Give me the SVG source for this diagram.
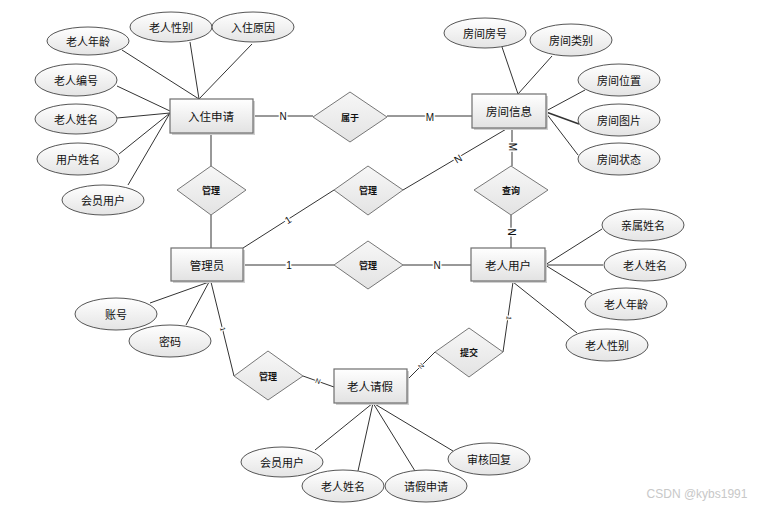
<svg xmlns="http://www.w3.org/2000/svg" width="767" height="507" viewBox="0 0 767 507">
<defs>
<linearGradient id="gE" x1="0" y1="0" x2="0" y2="1"><stop offset="0" stop-color="#ffffff"/><stop offset="1" stop-color="#e4e4e4"/></linearGradient>
<linearGradient id="gR" x1="0" y1="0" x2="0" y2="1"><stop offset="0" stop-color="#ffffff"/><stop offset="1" stop-color="#e2e2e2"/></linearGradient>
<linearGradient id="gD" x1="0" y1="0" x2="0" y2="1"><stop offset="0" stop-color="#f7f7f7"/><stop offset="1" stop-color="#e3e3e3"/></linearGradient>
</defs>
<style>
text{font-family:"Noto Sans CJK SC","Noto Sans",sans-serif;fill:#111;text-anchor:middle;dominant-baseline:central}
.ent rect.s{fill:#d0d0d0}
.ent rect.b{fill:url(#gR);stroke:#6e6e6e;stroke-width:1.2}
.ent text{font-size:11.5px}
.att ellipse{fill:url(#gE);stroke:#555;stroke-width:1}
.att text{font-size:11px}
.rel polygon{fill:url(#gD);stroke:#777;stroke-width:1}
.rel text{font-size:9px;font-weight:bold}
.conn line{stroke:#333;stroke-width:1}
.lbl{font-size:10px;font-family:"Liberation Sans",sans-serif;paint-order:stroke;stroke:#fff;stroke-width:3px}
.tiny{font-size:7px;font-family:"Liberation Sans",sans-serif;paint-order:stroke;stroke:#fff;stroke-width:2px}
</style>
<rect width="767" height="507" fill="#fff"/>
<g id="connectors" class="conn">
<line x1="122" y1="50" x2="199" y2="99"/>
<line x1="190" y1="42" x2="199" y2="99"/>
<line x1="252" y1="44" x2="199" y2="99"/>
<line x1="117" y1="86" x2="170" y2="111"/>
<line x1="117" y1="118" x2="170" y2="113"/>
<line x1="119" y1="154" x2="170" y2="113"/>
<line x1="128" y1="185" x2="170" y2="113"/>
<line x1="253" y1="116" x2="313" y2="116"/>
<line x1="387" y1="116" x2="472" y2="116"/>
<line x1="502" y1="47" x2="518" y2="94"/>
<line x1="552" y1="56" x2="518" y2="94"/>
<line x1="585" y1="90" x2="546" y2="111"/>
<line x1="579" y1="124" x2="546" y2="112" style="stroke-width:1.6"/>
<line x1="578" y1="155" x2="546" y2="113"/>
<line x1="512" y1="128" x2="512" y2="166"/>
<line x1="508" y1="128" x2="403" y2="190"/>
<line x1="211" y1="133" x2="211" y2="166"/>
<line x1="211" y1="215" x2="211" y2="248"/>
<line x1="243" y1="248" x2="334" y2="190"/>
<line x1="243" y1="265" x2="334" y2="265"/>
<line x1="403" y1="265" x2="471" y2="265"/>
<line x1="511" y1="215" x2="511" y2="248"/>
<line x1="545" y1="265" x2="602" y2="229"/>
<line x1="545" y1="265" x2="603" y2="265"/>
<line x1="545" y1="265" x2="592" y2="294"/>
<line x1="513" y1="282" x2="577" y2="333"/>
<line x1="513" y1="282" x2="503" y2="352"/>
<line x1="150" y1="303" x2="209" y2="282"/>
<line x1="186" y1="325" x2="209" y2="282"/>
<line x1="211" y1="282" x2="234" y2="376"/>
<line x1="303" y1="376" x2="334" y2="387"/>
<line x1="407" y1="380" x2="435" y2="352"/>
<line x1="315" y1="450" x2="373" y2="403"/>
<line x1="358" y1="471" x2="373" y2="403"/>
<line x1="415" y1="471" x2="373" y2="403"/>
<line x1="453" y1="451" x2="373" y2="403"/>
<text class="lbl" x="283" y="116">N</text>
<text class="lbl" x="430" y="117">M</text>
<text class="lbl" transform="translate(512,147) rotate(90)">M</text>
<text class="lbl" transform="translate(458,159) rotate(-31)">N</text>
<text class="lbl" transform="translate(288,220) rotate(-32)">1</text>
<text class="lbl" x="289" y="265">1</text>
<text class="lbl" x="437" y="265">N</text>
<text class="lbl" transform="translate(511,232) rotate(90)">N</text>
<text class="tiny" transform="translate(223,329) rotate(77)">1</text>
<text class="tiny" transform="translate(318,381) rotate(20)">N</text>
<text class="tiny" transform="translate(421,366) rotate(-45)">N</text>
<text class="tiny" transform="translate(509,318) rotate(98)">1</text>
</g>
<g id="e_ruzhu" class="ent"><rect class="s" x="172" y="101" width="83" height="34"/><rect class="b" x="170" y="99" width="83" height="34"/><text x="211" y="116">入住申请</text></g>
<g id="e_fangjian" class="ent"><rect class="s" x="474" y="96" width="74" height="34"/><rect class="b" x="472" y="94" width="74" height="34"/><text x="509" y="111">房间信息</text></g>
<g id="e_guanliyuan" class="ent"><rect class="s" x="173" y="250" width="72" height="33"/><rect class="b" x="171" y="248" width="72" height="33"/><text x="207" y="265">管理员</text></g>
<g id="e_laorenyonghu" class="ent"><rect class="s" x="473" y="250" width="74" height="33"/><rect class="b" x="471" y="248" width="74" height="33"/><text x="508" y="265">老人用户</text></g>
<g id="e_qingjia" class="ent"><rect class="s" x="336" y="371" width="73" height="34"/><rect class="b" x="334" y="369" width="73" height="34"/><text x="370" y="386">老人请假</text></g>
<g id="r_shuyu" class="rel"><polygon points="313,117 350,92 387,117 350,142"/><text x="350" y="117">属于</text></g>
<g id="r_guanli1" class="rel"><polygon points="177,190 211,166 246,190 211,215"/><text x="211" y="190">管理</text></g>
<g id="r_guanli2" class="rel"><polygon points="334,190 368,166 403,190 368,215"/><text x="368" y="190">管理</text></g>
<g id="r_chaxun" class="rel"><polygon points="474,190 511,166 548,190 511,215"/><text x="511" y="190">查询</text></g>
<g id="r_guanli3" class="rel"><polygon points="334,265 368,241 403,265 368,289"/><text x="368" y="265">管理</text></g>
<g id="r_guanli4" class="rel"><polygon points="234,376 268,351 303,376 268,400"/><text x="268" y="376">管理</text></g>
<g id="r_tijiao" class="rel"><polygon points="435,352 469,328 503,352 469,377"/><text x="469" y="352">提交</text></g>
<g id="a_nianling1" class="att"><ellipse cx="88" cy="41" rx="41" ry="14"/><text x="88" y="41">老人年龄</text></g>
<g id="a_xingbie1" class="att"><ellipse cx="171" cy="27" rx="41" ry="15"/><text x="171" y="27">老人性别</text></g>
<g id="a_yuanyin" class="att"><ellipse cx="253" cy="27" rx="41" ry="15"/><text x="253" y="27">入住原因</text></g>
<g id="a_bianhao" class="att"><ellipse cx="76" cy="80" rx="41" ry="16"/><text x="76" y="80">老人编号</text></g>
<g id="a_xingming1" class="att"><ellipse cx="76" cy="119" rx="41" ry="15"/><text x="76" y="119">老人姓名</text></g>
<g id="a_yonghuxingming" class="att"><ellipse cx="78" cy="159" rx="41" ry="16"/><text x="78" y="159">用户姓名</text></g>
<g id="a_huiyuan1" class="att"><ellipse cx="103" cy="200" rx="41" ry="15"/><text x="103" y="200">会员用户</text></g>
<g id="a_fanghao" class="att"><ellipse cx="485" cy="33" rx="41" ry="15"/><text x="485" y="33">房间房号</text></g>
<g id="a_leibie" class="att"><ellipse cx="571" cy="40" rx="41" ry="16"/><text x="571" y="40">房间类别</text></g>
<g id="a_weizhi" class="att"><ellipse cx="619" cy="80" rx="41" ry="16"/><text x="619" y="80">房间位置</text></g>
<g id="a_tupian" class="att"><ellipse cx="619" cy="120" rx="41" ry="16"/><text x="619" y="120">房间图片</text></g>
<g id="a_zhuangtai" class="att"><ellipse cx="619" cy="159" rx="41" ry="16"/><text x="619" y="159">房间状态</text></g>
<g id="a_qinshu" class="att"><ellipse cx="643" cy="225" rx="41" ry="16"/><text x="643" y="225">亲属姓名</text></g>
<g id="a_xingming2" class="att"><ellipse cx="645" cy="265" rx="41" ry="16"/><text x="645" y="265">老人姓名</text></g>
<g id="a_nianling2" class="att"><ellipse cx="626" cy="304" rx="41" ry="16"/><text x="626" y="304">老人年龄</text></g>
<g id="a_xingbie2" class="att"><ellipse cx="607" cy="345" rx="41" ry="16"/><text x="607" y="345">老人性别</text></g>
<g id="a_zhanghao" class="att"><ellipse cx="116" cy="314" rx="41" ry="16"/><text x="116" y="314">账号</text></g>
<g id="a_mima" class="att"><ellipse cx="170" cy="341" rx="41" ry="16"/><text x="170" y="341">密码</text></g>
<g id="a_huiyuan2" class="att"><ellipse cx="282" cy="462" rx="41" ry="15"/><text x="282" y="462">会员用户</text></g>
<g id="a_xingming3" class="att"><ellipse cx="343" cy="486" rx="41" ry="16"/><text x="343" y="486">老人姓名</text></g>
<g id="a_qingjiashenqing" class="att"><ellipse cx="426" cy="486" rx="41" ry="16"/><text x="426" y="486">请假申请</text></g>
<g id="a_shenhe" class="att"><ellipse cx="489" cy="459" rx="41" ry="16"/><text x="489" y="459">审核回复</text></g>
<text x="697" y="494" style="font-size:12px;fill:#c8c8c8;font-family:'Liberation Sans',sans-serif">CSDN @kybs1991</text>
</svg>
